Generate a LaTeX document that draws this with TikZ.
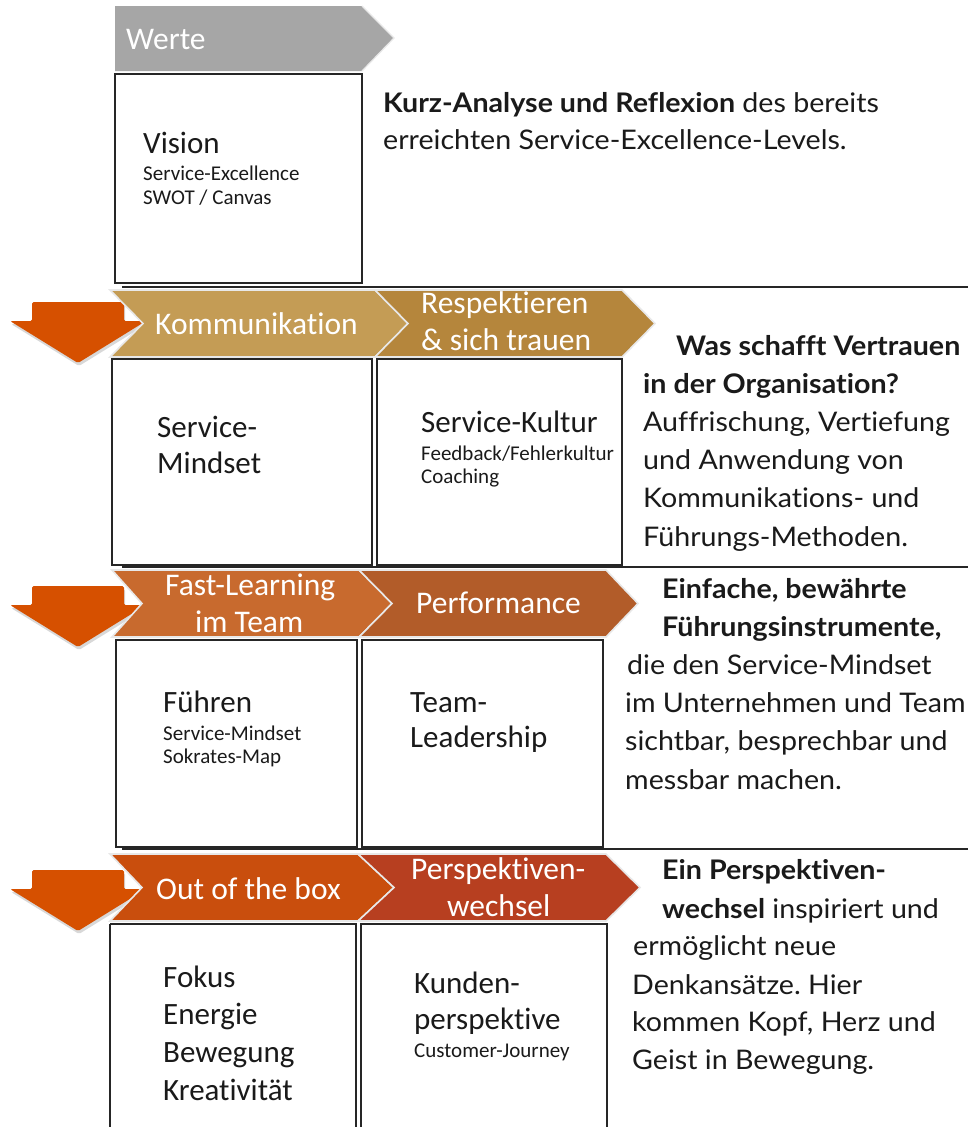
\documentclass[tikz,border=0pt]{standalone}
\usepackage{fontspec}
\usetikzlibrary{shadows}
\newfontfamily\calfont[Ligatures=NoCommon]{Carlito}
\newfontfamily\avfont[Ligatures=NoCommon,FakeStretch=1.06]{Lato}
\frenchspacing
\definecolor{grayw}{HTML}{A6A6A6}
\definecolor{goldA}{HTML}{C49C55}
\definecolor{goldB}{HTML}{B5863C}
\definecolor{orA}{HTML}{C86A2E}
\definecolor{orB}{HTML}{B25C29}
\definecolor{rdA}{HTML}{C94E0D}
\definecolor{rdB}{HTML}{B73F20}
\definecolor{arrowc}{HTML}{D65000}
\definecolor{ink}{HTML}{1A1A1A}
\tikzset{
  chev/.style={draw=gray!18, line width=1.6pt, line join=miter},
  boxfr/.style={draw=black!85, line width=1.4pt},
  sepline/.style={draw=black!85, line width=2pt},
  downarrow/.style={fill=arrowc, draw=none, rounded corners=1.5pt, drop shadow={opacity=0.3, shadow xshift=1pt, shadow yshift=-3pt}},
  chevtxt/.style={anchor=base west, inner sep=0pt, text=white, font=\calfont\fontsize{31.5}{36}\selectfont},
  bigtxt/.style={anchor=base west, inner sep=0pt, text=ink, font=\calfont\fontsize{31}{36}\selectfont},
  smalltxt/.style={anchor=base west, inner sep=0pt, text=ink, font=\calfont\fontsize{21}{25}\selectfont},
  desc/.style={anchor=base west, inner sep=0pt, text=ink, font=\avfont\fontsize{27}{38}\selectfont\frenchspacing},
}
\begin{document}
\begin{tikzpicture}[x=1pt,y=-1pt]
\useasboundingbox (0,0) rectangle (968,1127);
\fill[white] (0,0) rectangle (968,1127);

% ---------- separator lines ----------
\draw[sepline] (122,287) coordinate (s1a) -- (968,287) coordinate (s1b);
\draw[sepline] (122,567) coordinate (s2a) -- (968,567) coordinate (s2b);
\draw[sepline] (122,849) coordinate (s3a) -- (968,849) coordinate (s3b);

% ---------- down arrows (behind chevrons) ----------
\foreach \t in {302,586,870}{
  \path[downarrow] (32,\t) -- (124,\t) -- (124,\t+19) -- (146,\t+19) -- (78,\t+61) -- (10,\t+19) -- (32,\t+19) -- cycle;
}

% ---------- row 1 ----------
\fill[grayw] (115,6) -- (362,6) -- (394,38) -- (362,71) -- (115,71) -- cycle;
\draw[gray!18, line width=1.2pt] (362,6) -- (394,38) -- (362,71);
\node[chevtxt] (werte) at (126,49) {Werte};
\draw[boxfr] (115,74) rectangle (362,283);
\node[bigtxt] (vision) at (143,153) {Vision};
\node[smalltxt] (v2) at (143,180) {Service-Excellence};
\node[smalltxt] (v3) at (143,204) {SWOT / Canvas};
\node[desc] (d11) at (383,112) {\textbf{Kurz-Analyse und Reflexion} des bereits};
\node[desc] (d12) at (383,149) {erreichten Service-Excellence-Levels.};

% ---------- row 2 ----------
\path[chev, fill=goldA] (110,290) -- (375,290) -- (408,323.5) -- (375,357) -- (110,357) -- (143,323.5) -- cycle;
\path[chev, fill=goldB] (375,290) -- (622,290) -- (655,323.5) -- (622,357) -- (375,357) -- (408,323.5) -- cycle;
\node[chevtxt] (k) at (155,334) {Kommunikation};
\node[chevtxt] (r1) at (421,313) {Respektieren};
\node[chevtxt] (r2) at (421,350) {\& sich trauen};
\draw[boxfr] (112,359) rectangle (372,565);
\draw[boxfr] (377,359) rectangle (622,565);
\node[bigtxt] (sm1) at (157,437) {Service-};
\node[bigtxt] (sm2) at (157,473) {Mindset};
\node[bigtxt] (sk1) at (421,432) {Service-Kultur};
\node[smalltxt] (sk2) at (421,460) {Feedback/Fehlerkultur};
\node[smalltxt] (sk3) at (421,483) {Coaching};
\node[desc] (d21) at (676,355) {\textbf{Was schafft Vertrauen}};
\node[desc] (d22) at (643,393) {\textbf{in der Organisation?}};
\node[desc] (d23) at (643,431) {Auffrischung, Vertiefung};
\node[desc] (d24) at (643,469) {und Anwendung von};
\node[desc] (d25) at (643,507) {Kommunikations- und};
\node[desc] (d26) at (643,546) {Führungs-Methoden.};

% ---------- row 3 ----------
\path[chev, fill=orA] (112,570) -- (359,570) -- (392,603.5) -- (359,637) -- (112,637) -- (142,603.5) -- cycle;
\path[chev, fill=orB] (359,570) -- (606,570) -- (638,603.5) -- (606,637) -- (359,637) -- (392,603.5) -- cycle;
\node[chevtxt] (f1) at (165,595) {Fast-Learning};
\node[chevtxt] (f2) at (195,632) {im Team};
\node[chevtxt] (p) at (416,613) {Performance};
\draw[boxfr] (116,640) rectangle (357,847);
\draw[boxfr] (362,640) rectangle (603,847);
\node[bigtxt] (fu1) at (163,712) {Führen};
\node[smalltxt] (fu2) at (163,740) {Service-Mindset};
\node[smalltxt] (fu3) at (163,763) {Sokrates-Map};
\node[bigtxt] (tl1) at (410,712) {Team-};
\node[bigtxt] (tl2) at (410,747) {Leadership};
\node[desc] (d31) at (662,598) {\textbf{Einfache, bewährte}};
\node[desc] (d32) at (662,636) {\textbf{Führungsinstrumente,}};
\node[desc] (d33) at (627,674) {die den Service-Mindset};
\node[desc] (d34) at (625,712) {im Unternehmen und Team};
\node[desc] (d35) at (625,750) {sichtbar, besprechbar und};
\node[desc] (d36) at (625,789) {messbar machen.};

% ---------- row 4 ----------
\path[chev, fill=rdA] (110,854) -- (358,854) -- (394,887.5) -- (358,921) -- (110,921) -- (142,887.5) -- cycle;
\path[chev, fill=rdB] (358,854) -- (606,854) -- (640,887.5) -- (606,921) -- (358,921) -- (394,887.5) -- cycle;
\node[chevtxt] (o) at (156,899) {Out of the box};
\node[chevtxt] (pw1) at (411,879) {Perspektiven-};
\node[chevtxt] (pw2) at (447,916) {wechsel};
\draw[boxfr] (110,924) -- (110,1130);
\draw[boxfr] (110,924) -- (356,924) -- (356,1130);
\draw[boxfr] (361,1130) -- (361,924) -- (607,924) -- (607,1130);
\node[bigtxt] (fo1) at (163,987) {Fokus};
\node[bigtxt] (fo2) at (163,1024) {Energie};
\node[bigtxt] (fo3) at (163,1062) {Bewegung};
\node[bigtxt] (fo4) at (163,1100) {Kreativität};
\node[bigtxt] (ku1) at (414,993) {Kunden-};
\node[bigtxt] (ku2) at (414,1029) {perspektive};
\node[smalltxt] (ku3) at (414,1057) {Customer-Journey};
\node[desc] (d41) at (662,879) {\textbf{Ein Perspektiven-}};
\node[desc] (d42) at (662,918) {\textbf{wechsel} inspiriert und};
\node[desc] (d43) at (633,955) {ermöglicht neue};
\node[desc] (d44) at (632,994) {Denkansätze. Hier};
\node[desc] (d45) at (632,1031) {kommen Kopf, Herz und};
\node[desc] (d46) at (632,1069) {Geist in Bewegung.};
\end{tikzpicture}
\end{document}
